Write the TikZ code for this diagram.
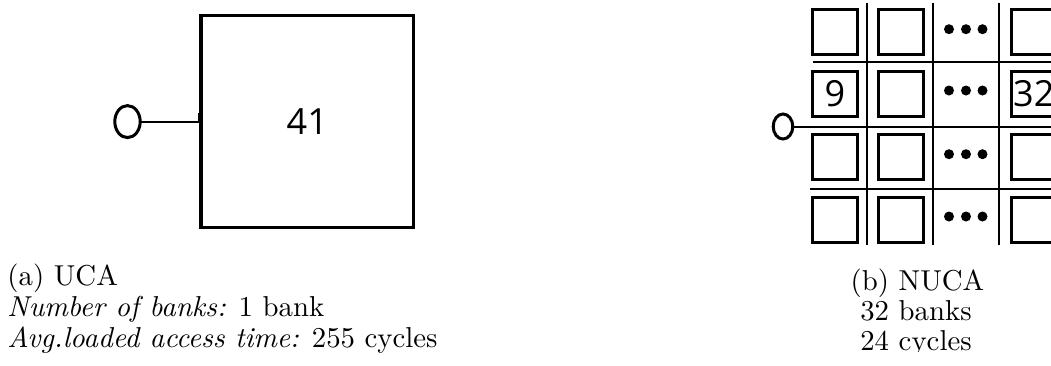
\documentclass[tikz,border=0pt]{standalone}
\usepackage{fontspec}
\newfontfamily\digitfont{Open Sans}
\usetikzlibrary{shapes.geometric}
\newcommand{\captxt}[1]{\scalebox{1.44}{\fontsize{10}{12}\selectfont #1}}
\begin{document}
\begin{tikzpicture}[x=0.5pt,y=-0.5pt,
  every node/.style={inner sep=0pt,outer sep=0pt},
  bigbox/.style={draw,line width=1.75pt,minimum width=106.25pt,minimum height=105.9pt,font=\digitfont\fontsize{18}{20}\selectfont},
  bank/.style={draw,line width=1.5pt,minimum width=22.75pt,minimum height=22.5pt,font=\digitfont\fontsize{18}{20}\selectfont},
  port/.style={draw,ellipse,line width=1.5pt},
  wire/.style={line width=1pt},
  bus/.style={line width=1pt},
  dotmark/.style={fill=black}
]
\useasboundingbox (0,0) rectangle (1051,365);
\clip (0,0) rectangle (1051,365);

% ---------- (a) UCA ----------
\node[bigbox] (uca) at (307.25,121.6) {41};
\node[port,minimum width=12.7pt,minimum height=16pt] (uport) at (127.5,121.6) {};
\draw[wire] (uport) -- (uca);
\draw[line width=1.2pt] ([shift={(-2,-8.6)}]uca.west) -- ([shift={(-2,1.4)}]uca.west);

\node[anchor=base west] (capa1) at (7.5,285) {\captxt{(a) UCA}};
\node[anchor=base west] (capa2) at (7.5,316) {\captxt{\textit{Number of banks:} 1 bank}};
\node[anchor=base west] (capa3) at (7.5,347) {\captxt{\textit{Avg.loaded access time:} 255 cycles}};

% ---------- (b) NUCA ----------
% bus lines
\draw[bus] (867.3,2.7) -- (867.3,245);
\draw[bus] (933.3,2.7) -- (933.3,245);
\draw[bus] (999.3,2.7) -- (999.3,245);
\draw[bus] (813,62) -- (1051,62);
\draw[bus] (810,189.3) -- (1051,189.3);

% banks
\foreach \r/\y in {1/32.2,2/93.5,3/157.2,4/219.5}{
  \node[bank] (b\r-1) at (834.9,\y) {};
  \node[bank] (b\r-2) at (901.2,\y) {};
  \node[bank] (b\r-4) at (1033.8,\y) {};
  \foreach \x in {949,966,982.5}{
    \fill[dotmark] (\x,\y-3) circle[radius=5];
  }
}
\node[font=\digitfont\fontsize{18}{20}\selectfont] at (b2-1) {9};
\node[font=\digitfont\fontsize{18}{20}\selectfont] at (b2-4) {32};

\node[port,minimum width=9.8pt,minimum height=12.5pt] (nport) at (783,126.5) {};
\coordinate (nend) at (1051,126.5);
\draw[bus] (nport) -- (nend);

\node[anchor=base] (capb1) at (917.5,290) {\captxt{(b) NUCA}};
\node[anchor=base] (capb2) at (916,320) {\captxt{32 banks}};
\begin{scope}
\clip (800,320) rectangle (1051,351);
\node[anchor=base] (capb3) at (916,350) {\captxt{24 cycles}};
\end{scope}
\end{tikzpicture}
\end{document}
